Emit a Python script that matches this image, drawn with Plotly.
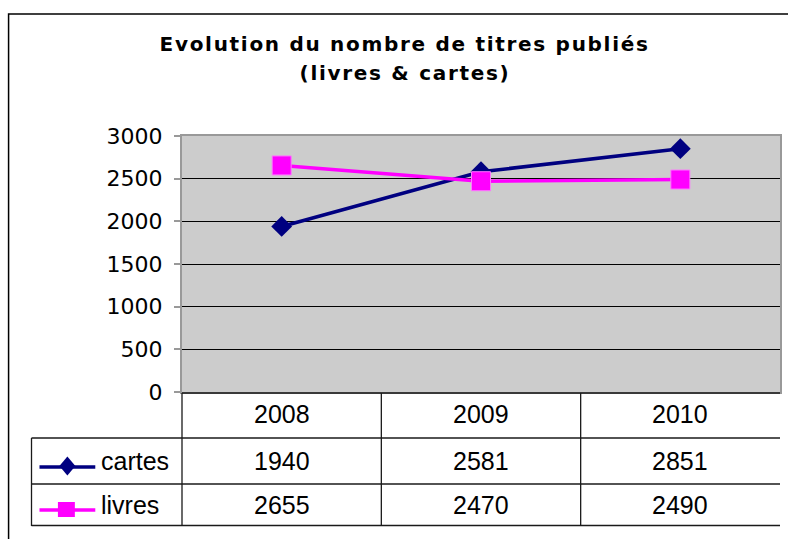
import plotly.graph_objects as go

# ---- data ----
years = ["2008", "2009", "2010"]
cartes = [1940, 2581, 2851]
livres = [2655, 2470, 2490]
series_names = ["cartes", "livres"]
y_ticks = [0, 500, 1000, 1500, 2000, 2500, 3000]
title_lines = ["Evolution du nombre de titres publiés", "(livres & cartes)"]

# ---- style ----
W, H = 788, 539
PL, PR, PT, PB = 182, 782, 136, 392  # plot area in pixels
NAVY = "#000080"
MAGENTA = "#ff00ff"
GRID = "#000000"
TABLE_LINE = "#1a1a1a"
BORDER = "#999999"
BG = "#cccccc"


def xp(px):
    return (px - PL) / (PR - PL)


def yp(py):
    return (PB - py) / (PB - PT)


fig = go.Figure()
fig.add_trace(go.Scatter(
    x=years, y=cartes, name=series_names[0], mode="lines+markers",
    line=dict(color=NAVY, width=3.5),
    marker=dict(symbol="diamond", size=16, color=NAVY, line=dict(width=0)),
))
fig.add_trace(go.Scatter(
    x=years, y=livres, name=series_names[1], mode="lines+markers",
    line=dict(color=MAGENTA, width=3.5),
    marker=dict(symbol="square", size=19, color=MAGENTA, line=dict(width=1, color="#ff77ff")),
))

annotations = []
# title (indices 0 and 1, letter-spaced via CSS)
annotations.append(dict(text=title_lines[0], xref="paper", yref="paper", x=xp(405), y=yp(44),
                        xanchor="center", yanchor="middle", showarrow=False,
                        font=dict(family="DejaVu Sans", size=20, color="#000000", weight="bold")))
annotations.append(dict(text=title_lines[1], xref="paper", yref="paper", x=xp(406), y=yp(72.5),
                        xanchor="center", yanchor="middle", showarrow=False,
                        font=dict(family="DejaVu Sans", size=20, color="#000000", weight="bold")))

TFONT = dict(family="Liberation Sans, Arial", size=25, color="#000000")
row_y = [414, 461, 505]
# header row: categories
for i, yr in enumerate(years):
    annotations.append(dict(text=yr, x=i, xref="x", yref="paper", y=yp(row_y[0]),
                            xanchor="center", yanchor="middle", showarrow=False, font=TFONT))
# data rows
for ri, vals in enumerate([cartes, livres]):
    for i, v in enumerate(vals):
        annotations.append(dict(text=str(v), x=i, xref="x", yref="paper", y=yp(row_y[ri + 1]),
                                xanchor="center", yanchor="middle", showarrow=False, font=TFONT))
    annotations.append(dict(text=series_names[ri], xref="paper", yref="paper", x=xp(99),
                            y=yp(row_y[ri + 1]), xanchor="left", yanchor="middle",
                            showarrow=False, font=TFONT))

shapes = []
# outer frame
shapes.append(dict(type="rect", xref="paper", yref="paper", x0=xp(8), x1=xp(820), y0=yp(14), y1=yp(580),
                   line=dict(color="#000000", width=1.5), layer="below"))


def hline(y, x0, x1):
    shapes.append(dict(type="line", xref="paper", yref="paper", x0=xp(x0), x1=xp(x1), y0=yp(y), y1=yp(y),
                       line=dict(color=TABLE_LINE, width=1.3)))


def vline(x, y0, y1):
    shapes.append(dict(type="line", xref="paper", yref="paper", x0=xp(x), x1=xp(x), y0=yp(y0), y1=yp(y1),
                       line=dict(color=TABLE_LINE, width=1.3)))


hline(393, PL, PR)
hline(438, 31, PR)
hline(484, 31, PR)
hline(525.5, 31, PR)
vline(PL, 393, 526)
vline(382, 393, 526)
vline(582, 393, 526)
vline(31, 438, 526)

# legend keys
for ky, color in [(467, NAVY), (510, MAGENTA)]:
    shapes.append(dict(type="line", xref="paper", yref="paper", x0=xp(39), x1=xp(95), y0=yp(ky), y1=yp(ky),
                       line=dict(color=color, width=3.5)))
# diamond key
cx, cy = 67, 466
shapes.append(dict(type="path", xref="paper", yref="paper",
                   path=f"M {xp(cx)} {yp(cy-9.5)} L {xp(cx+8)} {yp(cy)} L {xp(cx)} {yp(cy+9.5)} L {xp(cx-8)} {yp(cy)} Z",
                   fillcolor=NAVY, line=dict(width=0)))
# square key
shapes.append(dict(type="rect", xref="paper", yref="paper", x0=xp(57.5), x1=xp(74.5), y0=yp(502), y1=yp(517),
                   fillcolor=MAGENTA, line=dict(width=0)))

fig.update_layout(
    width=W, height=H,
    margin=dict(l=PL, r=W - PR, t=PT, b=H - PB, pad=0),
    paper_bgcolor="#ffffff", plot_bgcolor=BG,
    showlegend=False,
    annotations=annotations,
    shapes=shapes,
)
fig.update_xaxes(type="category", range=[-0.5, 2.5], showticklabels=False, ticks="",
                 showgrid=False, zeroline=False, showline=True, mirror=True,
                 linecolor=BORDER, linewidth=2)
fig.update_yaxes(range=[0, 3000], tickvals=y_ticks, ticks="outside", ticklen=6, tickcolor=BORDER,
                 tickwidth=1.5, ticklabelstandoff=7,
                 tickfont=dict(family="DejaVu Sans", size=22, color="#000000"),
                 showgrid=True, gridcolor=GRID, gridwidth=1, zeroline=False,
                 showline=True, mirror=True, linecolor=BORDER, linewidth=2)

post = """
document.body.style.margin = '0';
var st = document.createElement('style');
st.textContent = 'body{margin:0;} .annotation[data-index="0"] text, .annotation[data-index="1"] text {letter-spacing: 1.7px;}';
document.head.appendChild(st);
"""
fig.write_html("out.html", post_script=post, config={"displayModeBar": False})
